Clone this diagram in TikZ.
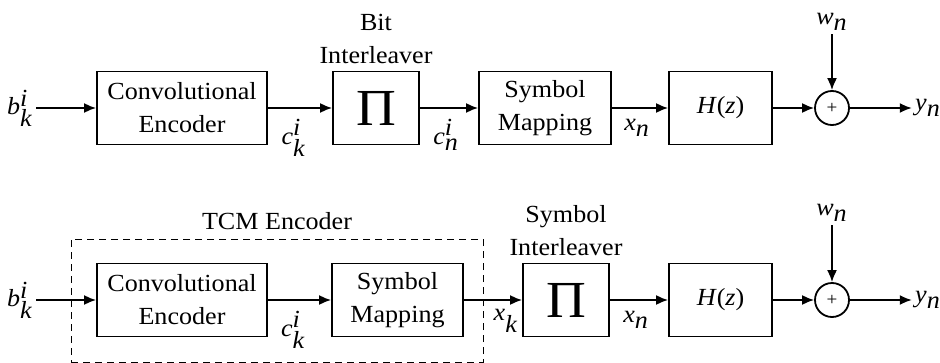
\documentclass[tikz,border=0pt]{standalone}
\usepackage{fontspec}
\setmainfont{Liberation Serif}[FakeStretch=1.06]
\usetikzlibrary{arrows.meta,positioning}

\newcommand{\sig}[3]{\textit{#1}$_{\textit{#2}}^{\textit{#3}}$}
\newcommand{\bigpi}{{\fontsize{26}{26}\selectfont Π}}

\begin{document}
\begin{tikzpicture}[x=0.5pt,y=-0.5pt,
  font=\fontsize{12.3}{16.5}\selectfont,
  block/.style={draw,line width=0.9pt,minimum height=36.5pt,align=center,inner sep=0pt},
  adder/.style={draw,circle,line width=0.9pt,minimum size=17pt,inner sep=0pt},
  sig/.style={inner sep=1.5pt},
  tcm/.style={draw,line width=0.5pt,dash pattern=on 3.5pt off 2.5pt,inner sep=0pt},
  >={Latex[length=6pt,width=5pt]}]
  \useasboundingbox (0,0) rectangle (940,363);

  % upper chain: bit interleaving
  \node[sig] (b1) at (20,108) {\sig{b}{k}{i}};
  \node[block,minimum width=85pt] (conv1) at (182,108) {Convolutional\\Encoder};
  \node[block,minimum width=43pt] (pi1) at (376,108) {\bigpi};
  \node[block,minimum width=66pt] (map1) at (545,108) {Symbol\\Mapping};
  \node[block,minimum width=51.5pt] (h1) at (720.5,108) {\textit{H}(\textit{z})};
  \node[adder] (sum1) at (832,108) {\small +};
  \node[sig] (w1) at (832,22) {\sig{w}{n}{}};
  \node[sig] (y1) at (928,108) {\sig{y}{n}{}};
  \node[above=0pt of pi1,align=center] (bi) {Bit\\Interleaver};

  \path[->,line width=0.9pt]
  (b1) edge (conv1)
  (conv1) edge node [below=2pt,pos=0.4] {\sig{c}{k}{i}} (pi1)
  (pi1) edge node [below=2pt,pos=0.45] {\sig{c}{n}{i}} (map1)
  (map1) edge node [below=2pt,pos=0.45] {\sig{x}{n}{}} (h1)
  (h1) edge (sum1)
  (w1) edge (sum1)
  (sum1) edge (y1)
;

  % lower chain: TCM + symbol interleaving
  \node[tcm,minimum width=206pt,minimum height=61.5pt,label={[yshift=1pt]above:TCM Encoder}] (tcmbox) at (277,300.5) {};
  \node[sig] (b2) at (20,300) {\sig{b}{k}{i}};
  \node[block,minimum width=85pt] (conv2) at (182,300) {Convolutional\\Encoder};
  \node[block,minimum width=65.5pt] (map2) at (397.5,300) {Symbol\\Mapping};
  \node[block,minimum width=43pt] (pi2) at (566,300) {\bigpi};
  \node[block,minimum width=51.5pt] (h2) at (720.5,300) {\textit{H}(\textit{z})};
  \node[adder] (sum2) at (832,300) {\small +};
  \node[sig] (w2) at (832,213) {\sig{w}{n}{}};
  \node[sig] (y2) at (928,300) {\sig{y}{n}{}};
  \node[above=0pt of pi2,align=center] (si) {Symbol\\Interleaver};

  \path[->,line width=0.9pt]
  (b2) edge (conv2)
  (conv2) edge node [below=2pt,pos=0.4] {\sig{c}{k}{i}} (map2)
  (map2) edge node [below=1pt,pos=0.72] {\sig{x}{k}{}} (pi2)
  (pi2) edge node [below=2pt,pos=0.45] {\sig{x}{n}{}} (h2)
  (h2) edge (sum2)
  (w2) edge (sum2)
  (sum2) edge (y2)
;
\end{tikzpicture}
\end{document}
